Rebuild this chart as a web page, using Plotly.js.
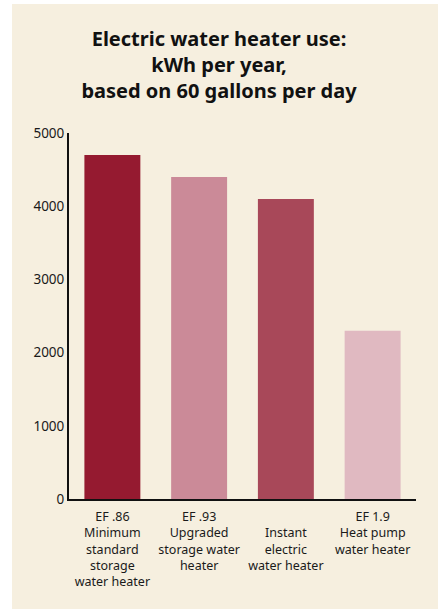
<!DOCTYPE html>
<html>
<head>
<meta charset="utf-8">
<script src="https://cdn.plot.ly/plotly-3.0.1.min.js"></script>
<style>
  html, body { margin: 0; padding: 0; background: #ffffff; width: 438px; height: 609px; overflow: hidden; }
  #chart { position: absolute; left: 12px; top: 4px; width: 426px; height: 605px; }
</style>
</head>
<body>
<div id="chart"></div>
<script>
const categories = [
  "EF .86<br>Minimum<br>standard<br>storage<br>water heater",
  "EF .93<br>Upgraded<br>storage water<br>heater",
  "&nbsp;<br>Instant<br>electric<br>water heater",
  "EF 1.9<br>Heat pump<br>water heater"
];
const kwhPerYear = [4700, 4400, 4100, 2300];
const barColors = ["#951a30", "#cb8a98", "#a84859", "#e0b9c1"];
const yTicks = [0, 1000, 2000, 3000, 4000, 5000];
const titleText = "Electric water heater use:<br>kWh per year,<br>based on 60 gallons per day";

const bg = "#f6efdf";
const ids = categories.map((c, i) => "c" + i);

Plotly.newPlot("chart", [{
  type: "bar",
  x: ids,
  y: kwhPerYear,
  marker: { color: barColors, line: { width: 0 } },
  hoverinfo: "none"
}], {
  width: 426,
  height: 605,
  paper_bgcolor: bg,
  plot_bgcolor: bg,
  margin: { l: 57, r: 22, t: 129, b: 110, pad: 0 },
  bargap: 0.355,
  showlegend: false,
  font: { family: "'Noto Sans', sans-serif", color: "#1a1a1a" },
  title: {
    text: titleText,
    font: { family: "'Noto Sans', sans-serif", size: 20, weight: 700, color: "#111111" },
    xref: "container", x: 0.486, xanchor: "center",
    yref: "container", y: 0.93, yanchor: "top"
  },
  xaxis: {
    type: "category",
    tickmode: "array",
    tickvals: ids,
    ticktext: categories,
    showline: true, linecolor: "#111111", linewidth: 2,
    showgrid: false, zeroline: false, ticks: "",
    tickfont: { size: 12.5, color: "#1a1a1a" },
    ticklabelstandoff: 5,
    fixedrange: true
  },
  yaxis: {
    range: [0, 5000],
    tickmode: "array",
    tickvals: yTicks,
    ticktext: yTicks.map(String),
    showline: true, linecolor: "#111111", linewidth: 2,
    showgrid: false, zeroline: false, ticks: "",
    tickfont: { size: 13.5, color: "#1a1a1a" },
    fixedrange: true
  }
}, { displayModeBar: false, staticPlot: true });
</script>
</body>
</html>
